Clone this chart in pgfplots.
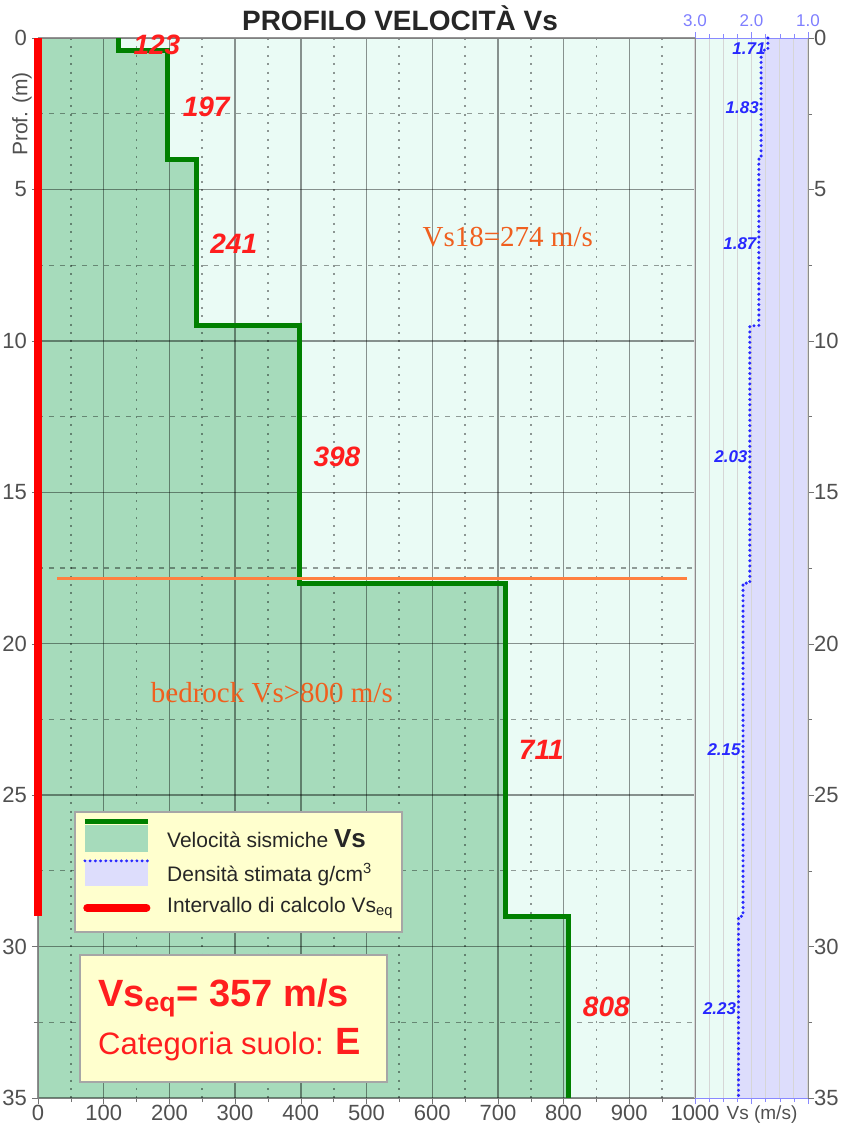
\documentclass[border=0pt]{standalone}
\usepackage{pgfplots}
\pgfplotsset{compat=1.18}
\usepackage{fontspec}
\setmainfont{Liberation Sans}
\newfontfamily\serifo{Liberation Serif}

\definecolor{vsfill}{RGB}{166,219,187}
\definecolor{mint}{RGB}{234,251,245}
\definecolor{lav}{RGB}{221,221,252}
\definecolor{vsline}{RGB}{0,128,0}
\definecolor{rhoblue}{RGB}{40,40,255}
\definecolor{redtxt}{RGB}{255,30,30}
\definecolor{orng}{RGB}{255,128,64}
\definecolor{orngtxt}{RGB}{240,95,30}
\definecolor{legbg}{RGB}{255,255,206}
\definecolor{ticktxt}{RGB}{80,80,80}

\newcommand{\fs}[1]{\fontsize{#1}{#1}\selectfont}

\begin{document}
\begin{tikzpicture}

% ---- Vs profile ----
\begin{axis}[
  name=vs, at={(0pt,0pt)}, anchor=north west,
  scale only axis, width=328.5pt, height=530pt,
  set layers, clip=false,
  xmin=0, xmax=1000, ymin=0, ymax=35, y dir=reverse,
  xtick={0,100,...,1000}, minor xtick={50,150,...,950},
  ytick={0,5,...,35}, minor ytick={2.5,7.5,...,32.5},
  xtick pos=left, ytick pos=left, tick align=outside,
  major tick length=3pt, minor tick length=2pt,
  tick style={black!55},
  axis line style={black!50},
  grid=both,
  major grid style={black, opacity=0.42, line width=0.7pt},
  minor x grid style={black, opacity=0.4, line width=0.9pt, dash pattern=on 1pt off 3.2pt},
  minor y grid style={black, opacity=0.38, line width=0.6pt, dash pattern=on 2.5pt off 3pt},
  ticklabel style={font=\fs{11}, text=ticktxt},
  xticklabel style={yshift=3pt},
  yticklabel style={xshift=1pt},
  /pgf/number format/.cd, 1000 sep={}, assume math mode=true,
]
\addplot[fill=mint, draw=none, on layer=axis background]
  coordinates {(0,0) (1000,0) (1000,35) (0,35)} -- cycle;
\addplot[fill=vsfill, draw=none, on layer=axis background]
  coordinates {(0,0) (123,0) (123,0.4) (197,0.4) (197,4) (241,4) (241,9.5)
               (398,9.5) (398,18) (711,18) (711,29) (808,29) (808,35) (0,35)} -- cycle;
\addplot[vsline, line width=2.6pt, line join=miter]
  coordinates {(123,0) (123,0.4) (197,0.4) (197,4) (241,4) (241,9.5)
               (398,9.5) (398,18) (711,18) (711,29) (808,29) (808,35)};
\addplot[red, line width=4pt] coordinates {(0,0) (0,29)};
\addplot[orng, line width=1.5pt] coordinates {(29,17.86) (988,17.86)};

\begin{scope}[every node/.style={font=\fs{14}\bfseries\itshape, text=redtxt}]
\node at (axis cs:181,0.23) {123};
\node at (axis cs:256,2.27) {197};
\node at (axis cs:298,6.8) {241};
\node at (axis cs:455,13.83) {398};
\node at (axis cs:766,23.5) {711};
\node at (axis cs:865,32.0) {808};
\end{scope}

\node[font=\serifo\fs{14.5}, text=orngtxt] at (axis cs:715,6.57) {Vs18=274 m/s};
\node[font=\serifo\fs{14.5}, text=orngtxt] at (axis cs:356,21.6) {bedrock Vs>800 m/s};

% legend box
\draw[fill=legbg, draw=black!35, line width=0.8pt] (axis cs:56,25.55) rectangle (axis cs:554,29.51);
\fill[vsfill] (axis cs:71.5,26.0) rectangle (axis cs:168,26.87);
\draw[vsline, line width=2.6pt] (axis cs:71.5,25.88) -- (axis cs:168,25.88);
\fill[lav] (axis cs:71.5,27.14) rectangle (axis cs:168,28.0);
\draw[rhoblue, line width=1.6pt, line cap=round, dash pattern=on 0pt off 2.6pt] (axis cs:71.5,27.17) -- (axis cs:168,27.17);
\draw[red, line width=4pt, line cap=round] (axis cs:75,28.72) -- (axis cs:165,28.72);
\begin{scope}[every node/.style={anchor=west, font=\fs{10.5}, text=black!85, inner sep=0pt}]
\node at (axis cs:196,26.44) {Velocità sismiche \textbf{\fs{13}Vs}};
\node at (axis cs:196,27.63) {Densità stimata g/cm\textsuperscript{3}};
\node at (axis cs:196,28.72) {Intervallo di calcolo Vs\textsubscript{eq}};
\end{scope}

% result box
\draw[fill=legbg, draw=black!35, line width=0.8pt] (axis cs:64,30.27) rectangle (axis cs:531,34.47);
\node[anchor=west, inner sep=0pt, font=\fs{19}\bfseries, text=redtxt] at (axis cs:91,31.69) {Vs\textsubscript{eq}= 357 m/s};
\node[anchor=west, inner sep=0pt, font=\fs{15.5}, text=redtxt] at (axis cs:91,33.25) {Categoria suolo: \textbf{\fs{19}E}};
\end{axis}

% ---- density profile ----
\begin{axis}[
  name=rho, at={(328.5pt,0pt)}, anchor=north west,
  scale only axis, width=56.5pt, height=530pt,
  set layers, clip=false,
  xmin=1, xmax=3, x dir=reverse, ymin=0, ymax=35, y dir=reverse,
  xtick={1,2,3}, minor x tick num=3,
  xticklabel pos=upper, xtick pos=both,
  xtick style={rhoblue!55},
  ytick={0,5,...,35}, minor ytick={2.5,7.5,...,32.5},
  ytick pos=right, yticklabel pos=right, tick align=outside,
  major tick length=3pt, minor tick length=2pt,
  ytick style={black!55},
  xmajorgrids, xminorgrids,
  major x grid style={black!16, line width=0.6pt},
  minor x grid style={black!16, line width=0.6pt},
  separate axis lines,
  x axis line style={rhoblue!55},
  y axis line style={black!45},
  xticklabel style={font=\fs{8.5}, text=rhoblue!60, yshift=-1pt},
  yticklabel style={font=\fs{11}, text=ticktxt, xshift=-3.5pt},
  xticklabel={\pgfmathprintnumber[fixed, fixed zerofill, precision=1]{\tick}},
  /pgf/number format/.cd, assume math mode=true,
]
\addplot[fill=mint, draw=none, on layer=axis background]
  coordinates {(3,0) (1,0) (1,35) (3,35)} -- cycle;
\addplot[fill=lav, draw=none, on layer=axis background]
  coordinates {(1.71,0) (1.71,0.4) (1.83,0.4) (1.83,4) (1.87,4) (1.87,9.5) (2.03,9.5)
               (2.03,18) (2.15,18) (2.15,29) (2.23,29) (2.23,35) (1,35) (1,0)} -- cycle;
\addplot[rhoblue, line width=1.7pt, line cap=round, dash pattern=on 0pt off 2.6pt]
  coordinates {(1.71,0) (1.71,0.4) (1.83,0.4) (1.83,4) (1.87,4) (1.87,9.5) (2.03,9.5)
               (2.03,18) (2.15,18) (2.15,29) (2.23,29) (2.23,35)};
\begin{scope}[every node/.style={anchor=east, font=\fs{8.5}\bfseries\itshape, text=rhoblue, inner sep=1pt}]
\node at (axis cs:1.71,0.36) {1.71};
\node at (axis cs:1.83,2.31) {1.83};
\node at (axis cs:1.87,6.8) {1.87};
\node at (axis cs:2.03,13.83) {2.03};
\node at (axis cs:2.15,23.5) {2.15};
\node at (axis cs:2.23,32.06) {2.23};
\end{scope}
\end{axis}

% titles and labels
\node[font=\fs{14}\bfseries, text=black!85] at (181pt,10pt) {PROFILO VELOCITÀ Vs};
\node[font=\fs{10.5}, text=ticktxt, rotate=90] at (-8pt,-38pt) {Prof. (m)};
\node[font=\fs{9.5}, text=ticktxt] at (362pt,-538.5pt) {Vs (m/s)};
\pgfresetboundingbox
\path[use as bounding box] (-19pt,19pt) rectangle (401.5pt,-544pt);
\end{tikzpicture}
\end{document}
